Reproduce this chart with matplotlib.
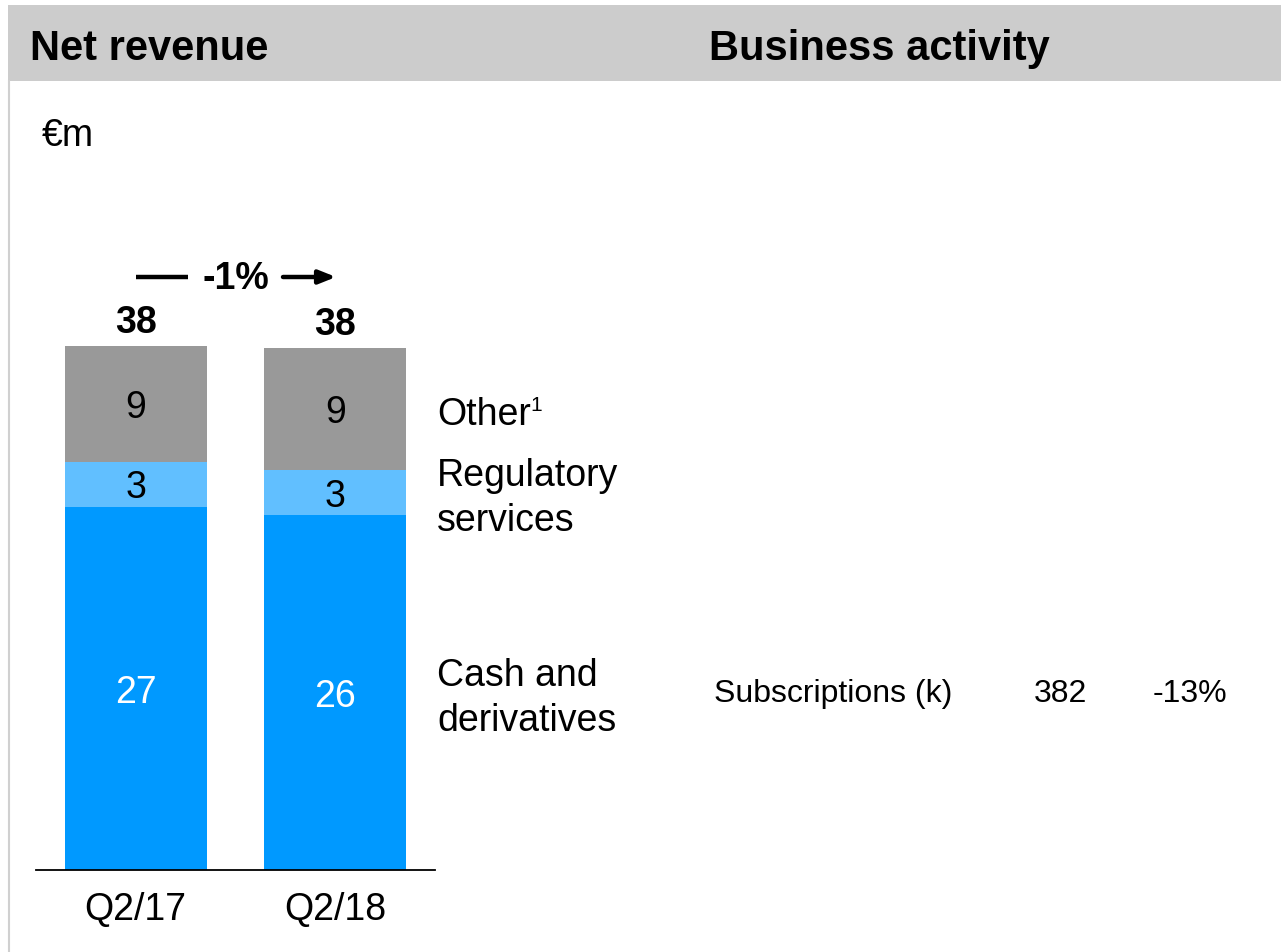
import matplotlib
matplotlib.use("Agg")
import matplotlib.pyplot as plt
from matplotlib.patches import Rectangle
import numpy as np

plt.rcParams['font.family'] = ['Liberation Sans', 'DejaVu Sans']

# ---- data ----
categories = ["Q2/17", "Q2/18"]
cash_deriv = [26.3, 25.7]       # estimated bar heights (EUR m)
regulatory = [3.3, 3.3]
other = [8.4, 8.8]
cash_labels = ["27", "26"]
reg_labels = ["3", "3"]
other_labels = ["9", "9"]
total_labels = ["38", "38"]
change_label = "-1%"
activity_name = "Subscriptions (k)"
activity_value = "382"
activity_change = "-13%"

C_BLUE = "#0099FF"
C_LIGHT = "#61BFFF"
C_GRAY = "#999999"

W, H = 1281, 953
fig = plt.figure(figsize=(W / 100, H / 100), dpi=100)

# background axes in pixel coordinates
bg = fig.add_axes([0, 0, 1, 1])
bg.set_xlim(0, W)
bg.set_ylim(H, 0)
bg.axis("off")
bg.add_patch(Rectangle((8, 6), W - 8, 76, color="#CCCCCC", lw=0))
bg.plot([9, 9], [82, H], color="#D0D0D0", lw=1.5)
bg.text(30, 49, "Net revenue", fontsize=30, fontweight="bold", va="center", ha="left")
bg.text(709, 49, "Business activity", fontsize=30, fontweight="bold", va="center", ha="left")
bg.text(42, 136, "€m", fontsize=27, va="center", ha="left")

# change arrow
bg.plot([136, 188], [278, 278], color="black", lw=3.2, solid_capstyle="butt")
bg.annotate("", xy=(336, 278), xytext=(283, 278),
            arrowprops=dict(arrowstyle="-|>,head_length=1.0,head_width=0.4",
                            color="black", lw=3.2, shrinkA=0, shrinkB=0))
bg.text(236, 279, change_label, fontsize=27, fontweight="bold", va="center", ha="center")

# legend-style labels
bg.text(437, 415, "Other", fontsize=27, va="center", ha="left")
bg.text(530, 406, "1", fontsize=15, va="center", ha="left")
bg.text(437, 476, "Regulatory", fontsize=27, va="center", ha="left")
bg.text(437, 521, "services", fontsize=27, va="center", ha="left")
bg.text(437, 676, "Cash and", fontsize=27, va="center", ha="left")
bg.text(437, 721, "derivatives", fontsize=27, va="center", ha="left")

# business activity row
bg.text(714, 694, activity_name, fontsize=23, va="center", ha="left")
bg.text(1034, 694, activity_value, fontsize=23, va="center", ha="left")
bg.text(1153, 694, activity_change, fontsize=23, va="center", ha="left")

# bar axes
px_per_unit = 13.8
ax_left, ax_right, ax_bottom, ax_top = 36, 435, 871, 200
ax = fig.add_axes([ax_left / W, (H - ax_bottom) / H, (ax_right - ax_left) / W,
                   (ax_bottom - ax_top) / H])
ax.patch.set_alpha(0)
ax.set_xlim(-0.5, 1.5)
ax.set_ylim(0, (ax_bottom - ax_top) / px_per_unit)

x = np.arange(len(categories))
width = 0.712
cash = np.array(cash_deriv)
reg = np.array(regulatory)
oth = np.array(other)
ax.bar(x, cash, width, color=C_BLUE, lw=0)
ax.bar(x, reg, width, bottom=cash, color=C_LIGHT, lw=0)
ax.bar(x, oth, width, bottom=cash + reg, color=C_GRAY, lw=0)

def seg_label(xv, yv, txt, color):
    ax.annotate(txt, xy=(xv, yv), xytext=(0, -2.2), textcoords="offset points",
                fontsize=27, color=color, ha="center", va="center")

for i in range(len(categories)):
    seg_label(x[i], cash[i] / 2, cash_labels[i], "white")
    seg_label(x[i], cash[i] + reg[i] / 2, reg_labels[i], "black")
    seg_label(x[i], cash[i] + reg[i] + oth[i] / 2, other_labels[i], "black")
    total = cash[i] + reg[i] + oth[i]
    ax.annotate(total_labels[i], xy=(x[i], total), xytext=(0, 17.3),
                textcoords="offset points", fontsize=27, fontweight="bold",
                ha="center", va="center")

for s in ["top", "right", "left"]:
    ax.spines[s].set_visible(False)
ax.spines["bottom"].set_linewidth(1.3)
ax.set_yticks([])
ax.set_xticks(x)
ax.set_xticklabels(categories, fontsize=27)
ax.tick_params(axis="x", length=0, pad=15)

fig.savefig("out.png", dpi=100)
